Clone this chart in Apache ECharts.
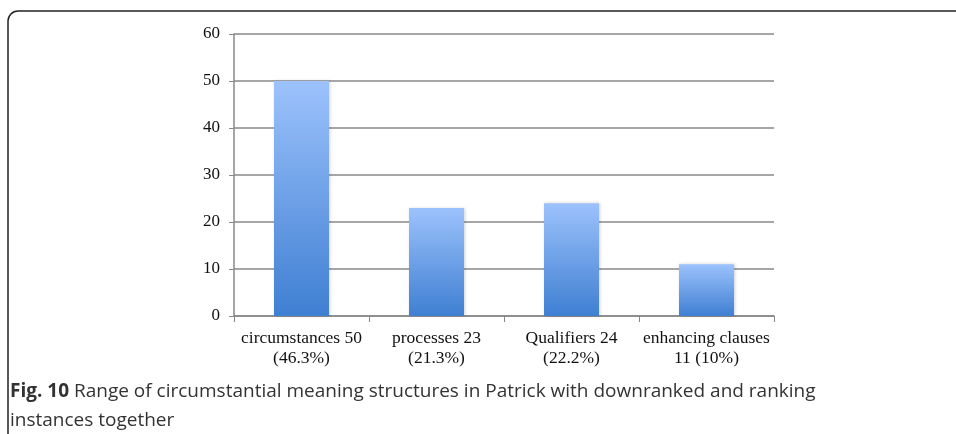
<!DOCTYPE html>
<html>
<head>
    <meta charset="utf-8">
    <title>ECharts</title>
    <script src="https://cdn.jsdelivr.net/npm/echarts@6/dist/echarts.min.js"></script>
    <style>
        html, body { margin: 0; padding: 0; background: #fff; }
    </style>
</head>
<body>
    <div id="main" style="width: 956px;height:434px;"></div>

    <script type="text/javascript">
        // data
        var categories = ['circumstances 50\n(46.3%)', 'processes 23\n(21.3%)', 'Qualifiers 24\n(22.2%)', 'enhancing clauses\n11 (10%)'];
        var counts = [50, 23, 24, 11];
        var yTicks = { min: 0, max: 60, interval: 10 };
        var captionLabel = 'Fig. 10';
        var captionLine1 = 'Range of circumstantial meaning structures in Patrick with downranked and ranking';
        var captionLine2 = 'instances together';

        var myChart = echarts.init(document.getElementById('main'));

        var barFill = new echarts.graphic.LinearGradient(0, 0, 0, 1, [
            { offset: 0, color: '#9cc2fc' },
            { offset: 1, color: '#3f7fd2' }
        ]);

        option = {
            animation: false,
            grid: {
                left: 234,
                right: 182,
                top: 34,
                bottom: 118
            },
            xAxis: {
                type: 'category',
                data: categories,
                axisLine: { lineStyle: { color: '#888', width: 1.5 } },
                axisTick: { show: true, length: 6, lineStyle: { color: '#888' } },
                axisLabel: {
                    interval: 0,
                    color: '#111',
                    fontFamily: 'Liberation Serif',
                    fontSize: 17.5,
                    lineHeight: 20,
                    margin: 12
                }
            },
            yAxis: {
                type: 'value',
                min: yTicks.min,
                max: yTicks.max,
                interval: yTicks.interval,
                axisLine: { show: true, lineStyle: { color: '#888', width: 1.5 } },
                axisTick: { show: true, length: 5, lineStyle: { color: '#888' } },
                splitLine: { lineStyle: { color: '#888', width: 1.5 } },
                axisLabel: {
                    color: '#111',
                    fontFamily: 'Liberation Serif',
                    fontSize: 17,
                    margin: 14
                }
            },
            series: [{
                type: 'bar',
                data: counts,
                barWidth: 55,
                itemStyle: {
                    color: barFill,
                    shadowColor: 'rgba(0,0,0,0.18)',
                    shadowBlur: 3,
                    shadowOffsetX: 1
                }
            }],
            graphic: [
                {
                    type: 'rect',
                    shape: { x: 8, y: 11, width: 1000, height: 500, r: [10, 0, 0, 0] },
                    style: { fill: 'none', stroke: '#222', lineWidth: 1.5 },
                    silent: true
                },
                {
                    type: 'text',
                    left: 10,
                    top: 377,
                    style: {
                        text: '{b|' + captionLabel + '} ' + captionLine1 + '\n' + captionLine2,
                        fontFamily: 'Open Sans',
                        fontSize: 19,
                        lineHeight: 29,
                        fill: '#333',
                        rich: {
                            b: {
                                fontFamily: 'Open Sans',
                                fontWeight: 'bold',
                                fontSize: 19,
                                fill: '#333',
                                color: '#333'
                            }
                        }
                    }
                }
            ]
        };

        myChart.setOption(option);
    </script>
</body>
</html>
